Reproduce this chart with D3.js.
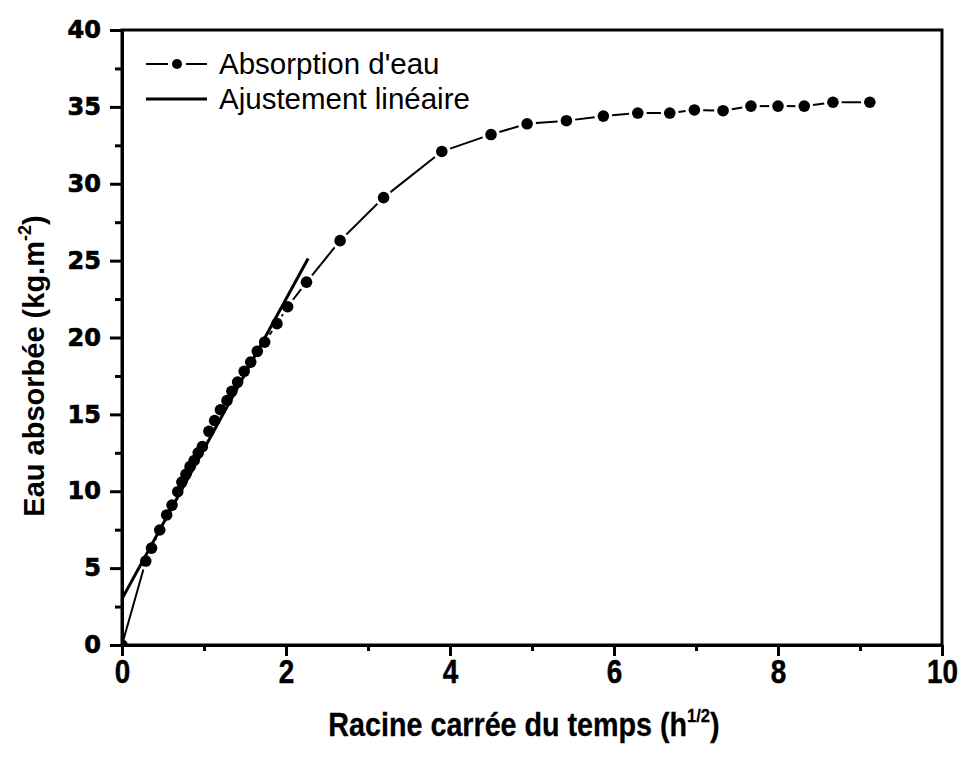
<!DOCTYPE html>
<html>
<head>
<meta charset="utf-8">
<script src="https://cdn.jsdelivr.net/npm/d3@7"></script>
<style>
  html, body { margin: 0; padding: 0; background: #fff; }
  svg { display: block; }
</style>
</head>
<body>
<script>
// Square root of time (h^1/2) and absorbed water (kg.m^-2)
const sqrtTime = [0, 0.29, 0.36, 0.46, 0.545, 0.61, 0.68, 0.73, 0.78, 0.83, 0.88, 0.93, 0.98,
  1.06, 1.13, 1.20, 1.28, 1.34, 1.41, 1.49, 1.57, 1.65, 1.74, 1.89, 2.02, 2.25, 2.66, 3.19,
  3.90, 4.50, 4.94, 5.42, 5.87, 6.29, 6.68, 6.98, 7.33, 7.67, 8.00, 8.32, 8.67, 9.12];
const waterAbsorbed = [0, 5.46, 6.3, 7.48, 8.46, 9.1, 9.97, 10.6, 11.1, 11.6, 12.0, 12.5, 12.9,
  13.9, 14.6, 15.3, 15.9, 16.5, 17.1, 17.8, 18.4, 19.1, 19.7, 20.9, 22.0, 23.6, 26.3, 29.1,
  32.1, 33.2, 33.9, 34.1, 34.4, 34.6, 34.6, 34.8, 34.75, 35.05, 35.05, 35.05, 35.3, 35.3];

// Linear fit on the early part: y = intercept + slope * x
const fitIntercept = 3.0;
const fitSlope = 9.75;
const fitRange = [0, 2.27];

const xMajorTicks = [0, 2, 4, 6, 8, 10];
const xMinorTicks = [1, 3, 5, 7, 9];
const yMajorTicks = [0, 5, 10, 15, 20, 25, 30, 35, 40];
const yMinorTicks = [2.5, 7.5, 12.5, 17.5, 22.5, 27.5, 32.5, 37.5];

const legendLabels = ["Absorption d'eau", "Ajustement linéaire"];

const W = 969, H = 760;
const mLeft = 122, mRight = 942, mTop = 30, mBottom = 645;
const narrow = 0.82; // horizontal condensing for the x-axis lettering

const x = d3.scaleLinear().domain([0, 10]).range([mLeft, mRight]);
const y = d3.scaleLinear().domain([0, 40]).range([mBottom, mTop]);

const svg = d3.select("body").append("svg")
  .attr("width", W).attr("height", H)
  .attr("font-family", "'Liberation Sans', Arial, sans-serif");

svg.append("defs").append("clipPath").attr("id", "plot-clip")
  .append("rect").attr("x", mLeft).attr("y", mTop)
  .attr("width", mRight - mLeft).attr("height", mBottom - mTop);

const points = sqrtTime.map((v, i) => ({ x: v, y: waterAbsorbed[i] }));

// Connecting line, interrupted around each symbol
const r = 5.8, gap = 3;
const segs = [];
for (let i = 0; i < points.length - 1; i++) {
  const x1 = x(points[i].x), y1 = y(points[i].y);
  const x2 = x(points[i + 1].x), y2 = y(points[i + 1].y);
  const d = Math.hypot(x2 - x1, y2 - y1);
  const g1 = i === 0 ? 0 : r + gap;
  const g2 = r + gap;
  if (d > g1 + g2) {
    const ux = (x2 - x1) / d, uy = (y2 - y1) / d;
    segs.push([x1 + ux * g1, y1 + uy * g1, x2 - ux * g2, y2 - uy * g2]);
  }
}
const plot = svg.append("g").attr("clip-path", "url(#plot-clip)");
plot.selectAll("line.seg").data(segs).join("line")
  .attr("class", "seg")
  .attr("x1", d => d[0]).attr("y1", d => d[1])
  .attr("x2", d => d[2]).attr("y2", d => d[3])
  .attr("stroke", "#000").attr("stroke-width", 2);

// Linear fit
plot.append("line")
  .attr("x1", x(fitRange[0])).attr("y1", y(fitIntercept + fitSlope * fitRange[0]))
  .attr("x2", x(fitRange[1])).attr("y2", y(fitIntercept + fitSlope * fitRange[1]))
  .attr("stroke", "#000").attr("stroke-width", 3);

// Symbols
plot.selectAll("circle.pt").data(points).join("circle")
  .attr("class", "pt")
  .attr("cx", d => x(d.x)).attr("cy", d => y(d.y)).attr("r", r)
  .attr("fill", "#000");

// Frame
svg.append("rect")
  .attr("x", mLeft).attr("y", mTop).attr("width", mRight - mLeft).attr("height", mBottom - mTop)
  .attr("fill", "none").attr("stroke", "#000").attr("stroke-width", 3);

// X axis
const xAxis = svg.append("g").attr("transform", `translate(0,${mBottom})`)
  .call(d3.axisBottom(x).tickValues(xMajorTicks).tickSize(11).tickSizeOuter(0).tickPadding(3)
    .tickFormat(d3.format("d")));
svg.append("g").attr("transform", `translate(0,${mBottom})`)
  .call(d3.axisBottom(x).tickValues(xMinorTicks).tickSize(6).tickSizeOuter(0).tickFormat(""))
  .call(g => g.select(".domain").remove());
xAxis.select(".domain").attr("stroke-width", 3);
svg.selectAll(".tick line").attr("stroke-width", 3);
xAxis.selectAll("text")
  .attr("font-family", "'Liberation Sans', Arial, sans-serif")
  .attr("font-weight", "bold").attr("font-size", 34).attr("fill", "#000")
  .attr("stroke", "#000").attr("stroke-width", 0.5)
  .attr("transform", `scale(${narrow},1)`);

// Y axis
const yAxis = svg.append("g").attr("transform", `translate(${mLeft},0)`)
  .call(d3.axisLeft(y).tickValues(yMajorTicks).tickSize(12).tickSizeOuter(0).tickPadding(9)
    .tickFormat(d3.format("d")));
svg.append("g").attr("transform", `translate(${mLeft},0)`)
  .call(d3.axisLeft(y).tickValues(yMinorTicks).tickSize(7).tickSizeOuter(0).tickFormat(""))
  .call(g => g.select(".domain").remove());
yAxis.select(".domain").attr("stroke-width", 3);
svg.selectAll(".tick line").attr("stroke-width", 3);
yAxis.selectAll("text")
  .attr("font-family", "'DejaVu Sans', sans-serif")
  .attr("font-weight", "bold").attr("font-size", 24).attr("fill", "#000")
  .attr("stroke", "#000").attr("stroke-width", 0.7);

// Axis titles
const xt = svg.append("text")
  .attr("transform", `translate(${(mLeft + mRight) / 2 - 8},736) scale(${narrow + 0.05},1)`)
  .attr("text-anchor", "middle")
  .attr("font-weight", "bold").attr("font-size", 33).attr("fill", "#000")
  .attr("stroke", "#000").attr("stroke-width", 0.3);
xt.append("tspan").text("Racine carrée du temps (h");
xt.append("tspan").attr("font-size", 19).attr("dy", -14).text("1/2");
xt.append("tspan").attr("dy", 14).text(")");

const yt = svg.append("text")
  .attr("transform", `translate(44,366) rotate(-90)`)
  .attr("text-anchor", "middle")
  .attr("font-weight", "bold").attr("font-size", 29).attr("fill", "#000");
yt.append("tspan").text("Eau absorbée (kg.m");
yt.append("tspan").attr("font-size", 18).attr("dy", -13).text("-2");
yt.append("tspan").attr("dy", 13).text(")");

// Legend
const lg = svg.append("g");
const lx0 = 146, lx1 = 207, ly = [64, 99];
lg.append("line").attr("x1", lx0).attr("x2", 168).attr("y1", ly[0]).attr("y2", ly[0])
  .attr("stroke", "#000").attr("stroke-width", 2);
lg.append("line").attr("x1", 186).attr("x2", lx1).attr("y1", ly[0]).attr("y2", ly[0])
  .attr("stroke", "#000").attr("stroke-width", 2);
lg.append("circle").attr("cx", 177).attr("cy", ly[0]).attr("r", 5).attr("fill", "#000");
lg.append("line").attr("x1", lx0).attr("x2", lx1).attr("y1", ly[1]).attr("y2", ly[1])
  .attr("stroke", "#000").attr("stroke-width", 3);
lg.selectAll("text").data(legendLabels).join("text")
  .attr("x", 219).attr("y", (d, i) => ly[i] + 10)
  .attr("font-size", 29.5).attr("fill", "#000")
  .text(d => d);
</script>
</body>
</html>
